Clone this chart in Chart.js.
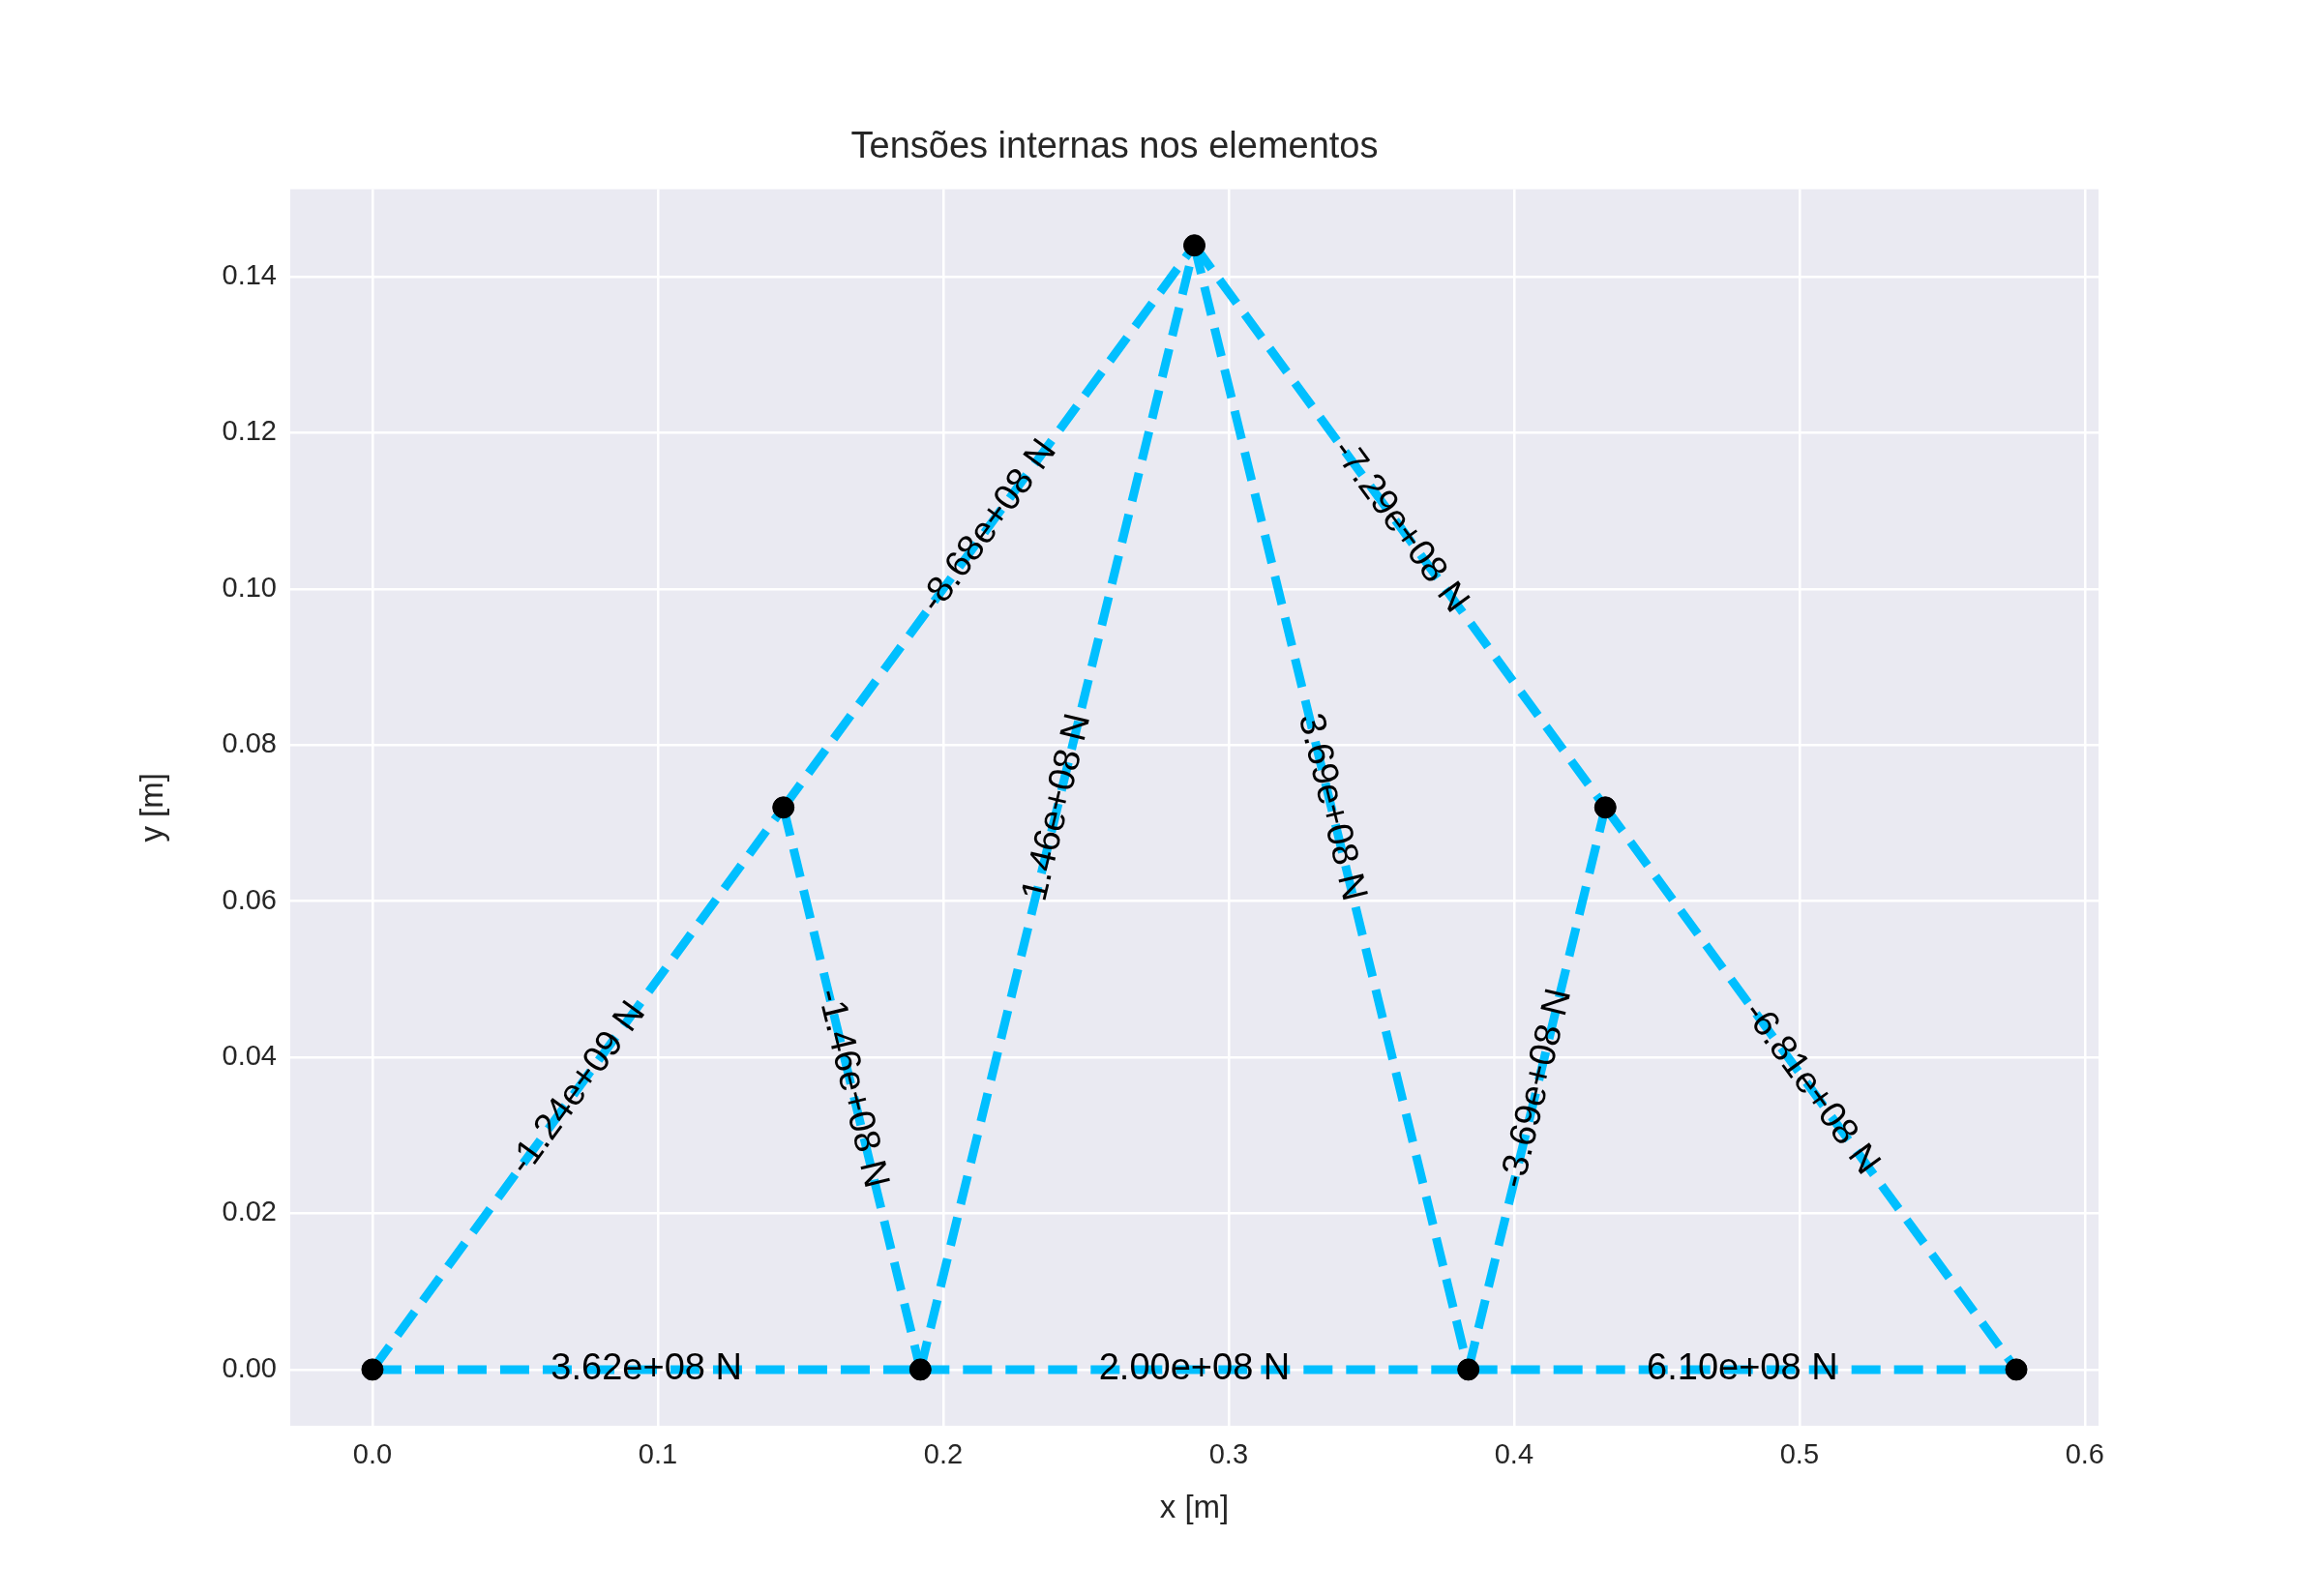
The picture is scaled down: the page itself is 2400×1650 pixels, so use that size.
<!DOCTYPE html>
<html><head><meta charset="utf-8">
<script src="https://cdn.jsdelivr.net/npm/chart.js@4"></script>
<style>body{margin:0;background:#fff}#w{width:2400px;height:1650px}</style>
</head><body><div id="w"><canvas id="c"></canvas></div>
<script>
const nodeX = [0, 0.144, 0.192, 0.288, 0.384, 0.432, 0.576];
const nodeY = [0, 0.072, 0, 0.144, 0, 0.072, 0];
const elemStart = [0, 1, 1, 2, 3, 3, 4, 5, 0, 2, 4];
const elemEnd   = [1, 3, 2, 3, 4, 5, 5, 6, 2, 4, 6];
const elemLabels = ["-1.24e+09 N","-8.68e+08 N","-1.46e+08 N","1.46e+08 N","3.69e+08 N","-7.29e+08 N","-3.69e+08 N","-6.81e+08 N","3.62e+08 N","2.00e+08 N","6.10e+08 N"];
const xTicks = [0,0.1,0.2,0.3,0.4,0.5,0.6];
const yTicks = [0,0.02,0.04,0.06,0.08,0.10,0.12,0.14];
const FONT = '"Liberation Sans", Arial, sans-serif';

const datasets = elemStart.map((s,i)=>({
  data:[{x:nodeX[s],y:nodeY[s]},{x:nodeX[elemEnd[i]],y:nodeY[elemEnd[i]]}],
  showLine:true, borderColor:'#00BFFF', borderWidth:9, borderDash:[30,14],
  pointRadius:0, label:elemLabels[i], order:1
}));
datasets.push({data:nodeX.map((x,i)=>({x,y:nodeY[i]})), showLine:false, order:-1,
  pointRadius:11, pointBackgroundColor:'#000', pointBorderColor:'#000', label:'nodes'});

const bgPlugin = {id:'bg', beforeDraw(ch){const a=ch.chartArea,c=ch.ctx;c.save();c.fillStyle='#EAEAF2';c.fillRect(a.left,a.top,a.right-a.left,a.bottom-a.top);c.restore();}};
const labelPlugin = {id:'lbl', afterDatasetsDraw(ch){
  const c=ch.ctx,xs=ch.scales.x,ys=ch.scales.y;
  c.save();c.font='38px '+FONT;c.fillStyle='#000';c.textAlign='center';c.textBaseline='middle';
  elemStart.forEach((s,i)=>{const e=elemEnd[i];
    let x1=xs.getPixelForValue(nodeX[s]),y1=ys.getPixelForValue(nodeY[s]),x2=xs.getPixelForValue(nodeX[e]),y2=ys.getPixelForValue(nodeY[e]);
    let dx=x2-x1,dy=y2-y1; if(dx<0){dx=-dx;dy=-dy;}
    let ang=Math.atan2(dy,dx);
    c.save();c.translate((x1+x2)/2,(y1+y2)/2);c.rotate(ang);c.fillText(elemLabels[i],0,0);c.restore();});
  c.restore();}};

new Chart(document.getElementById('c'),{type:'scatter',data:{datasets},
 options:{responsive:true,maintainAspectRatio:false,animation:false,
  layout:{padding:{left:135,right:231,top:130,bottom:66}},
  plugins:{legend:{display:false},tooltip:{enabled:false},
   title:{display:true,text:'Tensões internas nos elementos',color:'#262626',font:{size:38,family:FONT,weight:'normal'},padding:{top:0,bottom:20}}},
  scales:{
   x:{type:'linear',min:-0.0288,max:0.6048,
     afterBuildTicks(a){a.ticks=xTicks.map(v=>({value:v}));},
     afterFit(a){a.height=110;},
     ticks:{color:'#262626',font:{size:29,family:FONT},padding:14,callback:v=>v.toFixed(1)},
     grid:{color:'#fff',lineWidth:2.5,drawTicks:false},border:{display:false},
     title:{display:true,text:'x [m]',color:'#262626',font:{size:33,family:FONT},padding:{top:6}}},
   y:{type:'linear',min:-0.0072,max:0.1512,
     afterBuildTicks(a){a.ticks=yTicks.map(v=>({value:v}));},
     afterFit(a){a.width=165;},
     ticks:{color:'#262626',font:{size:29,family:FONT},padding:14,callback:v=>v.toFixed(2)},
     grid:{color:'#fff',lineWidth:2.5,drawTicks:false},border:{display:false},
     title:{display:true,text:'y [m]',color:'#262626',font:{size:33,family:FONT},padding:{bottom:4}}}
  }},plugins:[bgPlugin,labelPlugin]});
</script></body></html>
